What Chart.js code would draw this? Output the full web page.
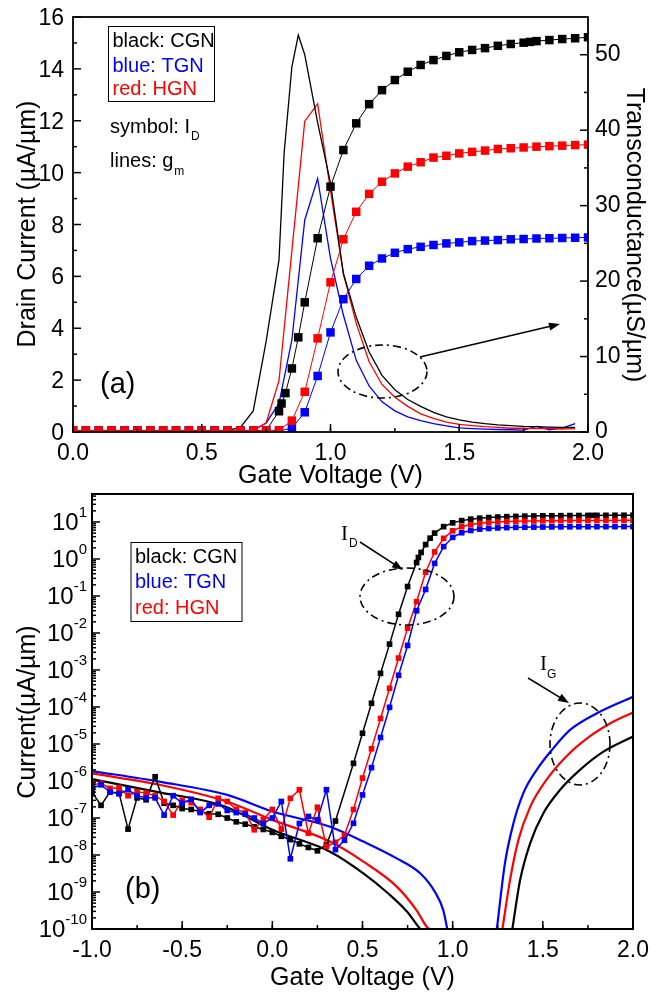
<!DOCTYPE html>
<html>
<head>
<meta charset="utf-8">
<title>Drain current and transconductance</title>
<script src="https://cdn.jsdelivr.net/npm/chart.js"></script>
<style>
  html, body { margin: 0; padding: 0; background: #fff; }
  #wrap { position: relative; width: 667px; height: 994px; }
  #wrap canvas { position: absolute; left: 0; top: 0; }
</style>
</head>
<body>
<div id="wrap">
  <canvas id="chart-a" width="667" height="994"></canvas>
  <canvas id="chart-b" width="667" height="994"></canvas>
</div>
<script>
// ---- panel (a): linear drain current (symbols) and transconductance (lines) ----
const vgA = [0, 0.05, 0.1, 0.15, 0.2, 0.25, 0.3, 0.35, 0.4, 0.45, 0.5, 0.55, 0.6, 0.65, 0.7, 0.75,
  0.8, 0.85, 0.9, 0.95, 1, 1.05, 1.1, 1.15, 1.2, 1.25, 1.3, 1.35, 1.4, 1.45, 1.5, 1.55, 1.6, 1.65,
  1.7, 1.75, 1.8, 1.85, 1.9, 1.95, 2];
const vgCgnA = [0, 0.05, 0.1, 0.15, 0.2, 0.25, 0.3, 0.35, 0.4, 0.45, 0.5, 0.55, 0.6, 0.65, 0.7, 0.75,
  0.8, 0.81, 0.825, 0.85, 0.875, 0.9, 0.95, 1, 1.05, 1.1, 1.15, 1.2, 1.25, 1.3, 1.35, 1.4, 1.45,
  1.5, 1.55, 1.6, 1.65, 1.7, 1.75, 1.775, 1.8, 1.85, 1.9, 1.95, 2];

// I_D in uA/um
const idCgnA = [0.06, 0.06, 0.06, 0.06, 0.06, 0.06, 0.06, 0.06, 0.06, 0.06, 0.06, 0.06, 0.06, 0.06, 0.06, 0.06,
  0.8, 1.1, 1.5, 2.45, 3.65, 5.0, 7.47, 9.46, 10.87, 11.9, 12.64, 13.18, 13.57, 13.89, 14.15, 14.34, 14.5,
  14.64, 14.73, 14.8, 14.89, 14.96, 15.01, 15.04, 15.07, 15.11, 15.15, 15.18, 15.22];
const idHgnA = [0.06, 0.06, 0.06, 0.06, 0.06, 0.06, 0.06, 0.06, 0.06, 0.06, 0.06, 0.06, 0.06, 0.06, 0.06, 0.06,
  0.07, 0.44, 1.55, 3.61, 5.77, 7.43, 8.49, 9.18, 9.65, 9.97, 10.23, 10.4, 10.58, 10.65, 10.74, 10.8,
  10.85, 10.91, 10.94, 10.97, 11.0, 11.02, 11.04, 11.06, 11.08];
const idTgnA = [0.06, 0.06, 0.06, 0.06, 0.06, 0.06, 0.06, 0.06, 0.06, 0.06, 0.06, 0.06, 0.06, 0.06, 0.06, 0.06,
  0.04, 0.15, 0.76, 2.16, 3.84, 5.12, 5.9, 6.41, 6.69, 6.91, 7.05, 7.14, 7.21, 7.27, 7.31, 7.36,
  7.38, 7.4, 7.43, 7.44, 7.46, 7.47, 7.48, 7.49, 7.5];

// g_m in uS/um
const vgGmA = [0, 0.05, 0.1, 0.15, 0.2, 0.25, 0.3, 0.35, 0.4, 0.45, 0.5, 0.55, 0.6, 0.65, 0.7, 0.75,
  0.8, 0.85, 0.9, 0.95, 1, 1.05, 1.1, 1.15, 1.2, 1.25, 1.3, 1.35, 1.4, 1.45, 1.5, 1.55, 1.6, 1.65,
  1.7, 1.75, 1.8, 1.85, 1.9, 1.95];
const vgGmCgnA = [0, 0.05, 0.1, 0.15, 0.2, 0.25, 0.3, 0.35, 0.4, 0.45, 0.5, 0.55, 0.6, 0.65, 0.7, 0.75,
  0.8, 0.82, 0.85, 0.875, 0.9, 0.95, 1, 1.05, 1.1, 1.15, 1.2, 1.25, 1.3, 1.35, 1.4, 1.45, 1.5, 1.55,
  1.6, 1.65, 1.7, 1.75, 1.8, 1.85, 1.9, 1.95];
const gmCgnA = [0.1, 0.1, 0.1, 0.1, 0.1, 0.1, 0.1, 0.1, 0.1, 0.1, 0.1, 0.1, 0.2, 0.6, 2.8, 12, 22.8,
  37, 48.4, 52.6, 50, 41, 33, 21, 15.2, 10.6, 7.5, 5.6, 4.3, 3.4, 2.6, 2.0, 1.6, 1.3, 1.1, 0.95,
  0.85, 0.75, 0.7, 0.65, 0.6, 0.6];
const gmHgnA = [0.05, 0.05, 0.05, 0.05, 0.05, 0.05, 0.05, 0.05, 0.05, 0.05, 0.05, 0.05, 0.05, 0.05,
  0.25, 1.2, 6.8, 24, 41.2, 43.5, 32, 21, 14.4, 9.3, 6.3, 4.6, 3.4, 2.4, 1.8, 1.3, 1.0, 0.85, 0.7,
  0.6, 0.5, 0.5, 0.45, 0.5, 0.4, 0.45];
const gmTgnA = [0.02, 0.02, 0.02, 0.02, 0.02, 0.02, 0.02, 0.02, 0.02, 0.02, 0.02, 0.02, 0.02, 0.02,
  0.2, 1.2, 3.8, 12.2, 28.1, 33.6, 23, 15.5, 9.5, 6.1, 4.0, 2.8, 2.0, 1.5, 1.1, 0.8, 0.55, 0.45,
  0.38, 0.33, 0.3, 0.25, 0.75, 0.3, 0.5, 1.1];

const xTicksA = [0, 0.5, 1, 1.5, 2];
const yTicksA = [0, 2, 4, 6, 8, 10, 12, 14, 16];
const y1TicksA = [0, 10, 20, 30, 40, 50];

// ---- panel (b): log scale, off-state part of I_D (uA/um) ----
const vgLow = [-1, -0.95, -0.9, -0.85, -0.8, -0.75, -0.7, -0.65, -0.6, -0.55, -0.5, -0.45, -0.4,
  -0.35, -0.3, -0.25, -0.2, -0.15, -0.1, -0.05, 0, 0.05, 0.1, 0.15, 0.2, 0.25, 0.3, 0.35, 0.4,
  0.45, 0.5, 0.55, 0.6, 0.65, 0.7, 0.75];
const idCgnLow = [5.0e-7, 2.2e-7, 5.1e-7, 4.7e-7, 5.0e-8, 3.5e-7, 3.1e-7, 1.3e-6, 2.5e-7, 2.2e-7,
  1.8e-7, 1.7e-7, 1.5e-7, 1.3e-7, 1.26e-7, 1.0e-7, 7.9e-8, 6.8e-8, 5.8e-8, 4.9e-8, 4.1e-8, 3.2e-8,
  2.6e-8, 2.0e-8, 1.6e-8, 1.3e-8, 1.9e-8, 8.3e-8, null, 3.0e-6, 1.95e-5, 1.26e-4, 8.1e-4, 5.0e-3,
  3.2e-2, 1.8e-1];
const idHgnLow = [7.8e-7, 8.7e-7, 6.3e-7, 6.6e-7, 4.0e-7, 5.1e-7, 4.7e-7, 4.0e-7, 2.8e-7, 1.2e-7,
  3.0e-7, 2.6e-7, 1.7e-7, 1.05e-7, 3.4e-7, 2.8e-7, 1.7e-7, 1.4e-7, 4.8e-8, 9.1e-8, 1.7e-7, 5.0e-8,
  3.4e-7, 5.8e-7, 3.9e-8, 1.95e-7, 1.7e-8, 2.2e-8, 3.4e-8, 1.7e-7, 1.2e-6, 7.4e-6, 4.9e-5, 3.2e-4,
  2.1e-3, 1.35e-2];
const idTgnLow = [6.3e-7, 7.9e-7, 5.0e-7, 4.5e-7, 5.8e-7, 4.0e-7, 3.5e-7, 3.5e-7, 1.2e-7, 4.0e-7,
  2.5e-7, 3.2e-7, 1.4e-7, 2.2e-7, 2.4e-7, 1.6e-7, 1.4e-7, 1.26e-7, 1.0e-7, 7.1e-8, 1.0e-7, 2.8e-7,
  7.9e-9, 7.1e-8, 1.1e-7, 8.9e-8, 5.8e-7, 1.4e-8, 2.5e-8, 7.2e-8, 4.2e-7, 2.3e-6, 1.5e-5, 9.8e-5,
  7.2e-4, 4.6e-3];

// gate current |I_G| (uA/um); null splits the two branches
const vgIgCgn = [-1, -0.64, -0.27, 0, 0.32, 0.505, 0.643, 0.745, 0.81, 0.82, 1.0,
  1.331, 1.374, 1.43, 1.503, 1.596, 1.706, 1.836, 2];
const igCgn = [1.12e-6, 5.1e-7, 2.1e-7, 4.8e-8, 1.23e-8, 3.2e-9, 9.1e-10, 3.0e-10, 1.15e-10, 1e-10, null,
  1e-10, 2.1e-9, 2.1e-8, 1.35e-7, 5.8e-7, 2.0e-6, 6.2e-6, 1.6e-5];
const vgIgHgn = [-1, -0.62, -0.25, 0, 0.32, 0.505, 0.69, 0.8, 0.856, 0.871, 1.0,
  1.276, 1.318, 1.365, 1.43, 1.52, 1.63, 1.76, 1.89, 2];
const igHgn = [1.6e-6, 7.8e-7, 2.75e-7, 8.9e-8, 2.3e-8, 6.6e-9, 1.4e-9, 3.2e-10, 1.15e-10, 1e-10, null,
  1e-10, 2.1e-9, 2.6e-8, 2.0e-7, 1.07e-6, 4.6e-6, 1.6e-5, 4.0e-5, 7.1e-5];
const vgIgTgn = [-1, -0.62, -0.25, 0, 0.32, 0.505, 0.69, 0.82, 0.902, 0.948, 0.97, 1.1,
  1.245, 1.29, 1.337, 1.392, 1.466, 1.55, 1.651, 1.8, 2];
const igTgn = [1.86e-6, 9.5e-7, 4.2e-7, 1.5e-7, 5.8e-8, 2.3e-8, 8.1e-9, 3.2e-9, 1.0e-9, 3.2e-10, 1e-10, null,
  1e-10, 6.0e-9, 7.2e-8, 4.7e-7, 2.0e-6, 6.9e-6, 2.4e-5, 6.8e-5, 1.9e-4];

const xTicksB = [-1, -0.5, 0, 0.5, 1, 1.5, 2];
const decadesB = [-10, -9, -8, -7, -6, -5, -4, -3, -2, -1, 0, 1];

const BLACK = '#000000', RED = '#ff0000', BLUE = '#0000ff';
const FONT = '"Liberation Sans", Arial, Helvetica, sans-serif';
const SERIF = '"Liberation Serif", "Times New Roman", serif';

function pairs(xs, ys) {
  return xs.map((x, i) => ({ x: x, y: ys[i] }));
}

// log panel curve = off-state readings + the on-state points of panel (a)
function idLog(low, xsA, ysA) {
  return pairs(vgLow, low).filter(p => p.y !== null)
    .concat(pairs(xsA, ysA).filter(p => p.x >= 0.8));
}

// drawing helpers
function txt(ctx, s, x, y, size, o) {
  o = o || {};
  ctx.save();
  ctx.font = size + 'px ' + (o.family || FONT);
  ctx.fillStyle = o.color || '#000';
  ctx.textAlign = o.align || 'left';
  ctx.textBaseline = 'alphabetic';
  if (o.rotate) {
    ctx.translate(x, y);
    ctx.rotate(o.rotate);
    ctx.fillText(s, 0, 0);
  } else {
    ctx.fillText(s, x, y);
  }
  ctx.restore();
}

function textWidth(ctx, s, size, family) {
  ctx.save();
  ctx.font = size + 'px ' + (family || FONT);
  const w = ctx.measureText(s).width;
  ctx.restore();
  return w;
}

function seg(ctx, x1, y1, x2, y2) {
  ctx.beginPath();
  ctx.moveTo(x1, y1);
  ctx.lineTo(x2, y2);
  ctx.stroke();
}

function dashEllipse(ctx, cx, cy, rx, ry) {
  ctx.save();
  ctx.strokeStyle = '#000';
  ctx.lineWidth = 1.6;
  ctx.setLineDash([8, 4, 2, 4]);
  ctx.beginPath();
  ctx.ellipse(cx, cy, rx, ry, 0, 0, Math.PI * 2);
  ctx.stroke();
  ctx.restore();
}

function arrow(ctx, x1, y1, x2, y2) {
  const a = Math.atan2(y2 - y1, x2 - x1), h = 11, w = 4;
  ctx.save();
  ctx.strokeStyle = '#000';
  ctx.fillStyle = '#000';
  ctx.lineWidth = 1.5;
  seg(ctx, x1, y1, x2 - Math.cos(a) * h * 0.8, y2 - Math.sin(a) * h * 0.8);
  ctx.beginPath();
  ctx.moveTo(x2, y2);
  ctx.lineTo(x2 - h * Math.cos(a) + w * Math.sin(a), y2 - h * Math.sin(a) - w * Math.cos(a));
  ctx.lineTo(x2 - h * Math.cos(a) - w * Math.sin(a), y2 - h * Math.sin(a) + w * Math.cos(a));
  ctx.closePath();
  ctx.fill();
  ctx.restore();
}

function legendBox(ctx, x, y, w, h, lines) {
  ctx.save();
  ctx.strokeStyle = '#000';
  ctx.lineWidth = 1;
  ctx.strokeRect(x, y, w, h);
  ctx.restore();
  lines.forEach(l => txt(ctx, l.text, x + 4, l.y, 20, { color: l.color }));
}

// frame, inward ticks, labels and notes of panel (a)
const decorA = {
  id: 'decorA',
  afterDraw(chart) {
    const { ctx, chartArea: a, scales } = chart;
    const x = scales.x, y = scales.y, y1 = scales.y1;
    ctx.save();
    ctx.strokeStyle = '#000';
    ctx.lineWidth = 1.8;
    ctx.strokeRect(a.left, a.top, a.right - a.left, a.bottom - a.top);
    ctx.lineWidth = 1.5;

    for (let v = 0; v <= 2.001; v += 0.25) {
      const px = x.getPixelForValue(v);
      seg(ctx, px, a.bottom, px, a.bottom - 4);
    }
    xTicksA.forEach(v => {
      const px = x.getPixelForValue(v);
      seg(ctx, px, a.bottom, px, a.bottom - 8);
      txt(ctx, v.toFixed(1), px, 460, 23, { align: 'center' });
    });

    for (let v = 1; v < 16; v += 2) {
      const py = y.getPixelForValue(v);
      seg(ctx, a.left, py, a.left + 4, py);
    }
    yTicksA.forEach(v => {
      const py = y.getPixelForValue(v);
      seg(ctx, a.left, py, a.left + 8, py);
      txt(ctx, String(v), a.left - 9, py + 8, 23, { align: 'right' });
    });

    for (let v = 5; v < 55; v += 10) {
      const py = y1.getPixelForValue(v);
      seg(ctx, a.right, py, a.right - 4, py);
    }
    y1TicksA.forEach(v => {
      const py = y1.getPixelForValue(v);
      seg(ctx, a.right, py, a.right - 8, py);
      txt(ctx, String(v), a.right + 7, py + 6, 23);
    });
    ctx.restore();

    txt(ctx, 'Gate Voltage (V)', (a.left + a.right) / 2, 483, 25, { align: 'center' });
    txt(ctx, 'Drain Current (\u00b5A/\u00b5m)', 35, 224, 25, { align: 'center', rotate: -Math.PI / 2 });
    txt(ctx, 'Transconductance(\u00b5S/\u00b5m)', 627, 235, 25, { align: 'center', rotate: Math.PI / 2 });

    legendBox(ctx, 108.5, 26.5, 106, 75, [
      { text: 'black: CGN', color: BLACK, y: 47 },
      { text: 'blue: TGN', color: BLUE, y: 72 },
      { text: 'red: HGN', color: RED, y: 95 }
    ]);
    const w1 = textWidth(ctx, 'symbol: I', 20);
    txt(ctx, 'symbol: I', 110, 133, 20);
    txt(ctx, 'D', 110 + w1 + 1, 140, 12);
    const w2 = textWidth(ctx, 'lines: g', 20);
    txt(ctx, 'lines: g', 110, 167, 20);
    txt(ctx, 'm', 110 + w2 + 1, 175, 12);
    txt(ctx, '(a)', 100, 393, 29);

    dashEllipse(ctx, 382.5, 371.5, 44.5, 26.5);
    arrow(ctx, 420, 357, 560, 324);
  }
};

// frame, inward ticks, labels and notes of panel (b)
const decorB = {
  id: 'decorB',
  afterDraw(chart) {
    const { ctx, chartArea: a, scales } = chart;
    const x = scales.x, y = scales.y;
    ctx.save();
    ctx.strokeStyle = '#000';
    ctx.lineWidth = 2;
    ctx.strokeRect(a.left, a.top, a.right - a.left, a.bottom - a.top);
    ctx.lineWidth = 1.5;

    for (let v = -1; v <= 2.001; v += 0.25) {
      const px = x.getPixelForValue(v);
      seg(ctx, px, a.bottom, px, a.bottom - 4);
    }
    xTicksB.forEach(v => {
      const px = x.getPixelForValue(v);
      seg(ctx, px, a.bottom, px, a.bottom - 8);
      txt(ctx, v.toFixed(1), px, 957, 23, { align: 'center' });
    });

    decadesB.forEach(n => {
      const base = Math.pow(10, n);
      const py = y.getPixelForValue(base);
      seg(ctx, a.left, py, a.left + 8, py);
      for (let m = 2; m <= 9; m++) {
        if (m * base > y.max) break;
        const pm = y.getPixelForValue(m * base);
        seg(ctx, a.left, pm, a.left + 4, pm);
      }
      const exp = String(n);
      const ew = textWidth(ctx, exp, 15);
      txt(ctx, exp, 87, py - 5, 15, { align: 'right' });
      txt(ctx, '10', 87 - ew, py + 8, 24, { align: 'right' });
    });
    ctx.restore();

    txt(ctx, 'Gate Voltage (V)', (a.left + a.right) / 2, 985, 25, { align: 'center' });
    txt(ctx, 'Current(\u00b5A/\u00b5m)', 35, 712, 25, { align: 'center', rotate: -Math.PI / 2 });

    legendBox(ctx, 131, 542.5, 111, 79, [
      { text: 'black: CGN', color: BLACK, y: 563 },
      { text: 'blue: TGN', color: BLUE, y: 588 },
      { text: 'red: HGN', color: RED, y: 614 }
    ]);
    txt(ctx, '(b)', 125, 898, 29);

    txt(ctx, 'I', 341, 540, 21, { family: SERIF });
    txt(ctx, 'D', 349, 547, 12);
    arrow(ctx, 360, 542, 403, 570);
    dashEllipse(ctx, 407, 596.5, 47, 28.5);

    txt(ctx, 'I', 540, 670, 21, { family: SERIF });
    txt(ctx, 'G', 547, 678, 12);
    arrow(ctx, 528, 678, 569, 703);
    dashEllipse(ctx, 580, 744, 30, 41);
  }
};

function idSet(data, color, r, lw, axis) {
  return {
    data: data, yAxisID: axis || 'y', showLine: true,
    borderColor: color, borderWidth: lw, backgroundColor: color,
    pointStyle: 'rect', pointRadius: r, pointBorderWidth: 0, pointBackgroundColor: color
  };
}

function lineSet(data, color, lw, axis, extra) {
  return Object.assign({
    data: data, yAxisID: axis || 'y', showLine: true,
    borderColor: color, borderWidth: lw, pointRadius: 0, spanGaps: false
  }, extra || {});
}

const common = {
  responsive: false,
  animation: false,
  devicePixelRatio: 1,
  events: [],
  plugins: { legend: { display: false }, tooltip: { enabled: false } }
};

new Chart(document.getElementById('chart-a'), {
  type: 'scatter',
  data: {
    datasets: [
      idSet(pairs(vgA, idHgnA), RED, 6, 1),
      idSet(pairs(vgA, idTgnA), BLUE, 6, 1),
      idSet(pairs(vgCgnA, idCgnA), BLACK, 6, 1),
      lineSet(pairs(vgGmCgnA, gmCgnA), BLACK, 1.3, 'y1'),
      lineSet(pairs(vgGmA, gmHgnA), RED, 1.3, 'y1'),
      lineSet(pairs(vgGmA, gmTgnA), BLUE, 1.3, 'y1')
    ]
  },
  options: Object.assign({}, common, {
    layout: { padding: { left: 73, right: 79, top: 17, bottom: 562 } },
    scales: {
      x: { type: 'linear', min: 0, max: 2, display: false },
      y: { type: 'linear', min: 0, max: 16, display: false },
      y1: { type: 'linear', position: 'right', min: 0, max: 55, display: false }
    }
  }),
  plugins: [decorA]
});

new Chart(document.getElementById('chart-b'), {
  type: 'scatter',
  data: {
    datasets: [
      idSet(idLog(idTgnLow, vgA, idTgnA), BLUE, 4, 1.5),
      idSet(idLog(idHgnLow, vgA, idHgnA), RED, 4, 1.5),
      idSet(idLog(idCgnLow, vgCgnA, idCgnA), BLACK, 4, 1.5),
      lineSet(pairs(vgIgCgn, igCgn), BLACK, 2.2, 'y', { cubicInterpolationMode: 'monotone' }),
      lineSet(pairs(vgIgHgn, igHgn), RED, 2.2, 'y', { cubicInterpolationMode: 'monotone' }),
      lineSet(pairs(vgIgTgn, igTgn), BLUE, 2.2, 'y', { cubicInterpolationMode: 'monotone' })
    ]
  },
  options: Object.assign({}, common, {
    layout: { padding: { left: 92, right: 34, top: 494, bottom: 65 } },
    scales: {
      x: { type: 'linear', min: -1, max: 2, display: false },
      y: { type: 'logarithmic', min: 1e-10, max: 57, display: false }
    }
  }),
  plugins: [decorB]
});
</script>
</body>
</html>
